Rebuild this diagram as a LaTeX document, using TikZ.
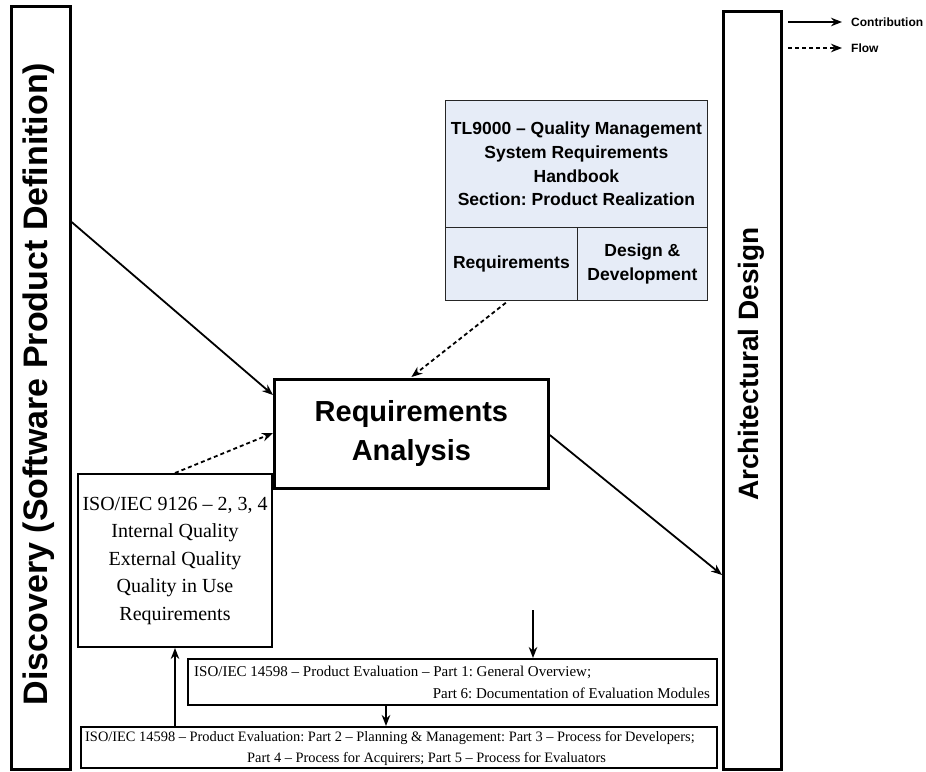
\documentclass[tikz,border=0pt]{standalone}
\usepackage{fontspec}
\setmainfont{Liberation Serif}
\setsansfont{Liberation Sans}
\usetikzlibrary{arrows.meta,calc}

\definecolor{tlfill}{RGB}{230,236,247}

\tikzset{
  phasebar/.style={draw, line width=2.6pt, anchor=north west, inner sep=0pt},
  mainbox/.style={draw, line width=2.8pt, anchor=north west, inner sep=0pt, align=center,
    font=\sffamily\bfseries\fontsize{29}{39}\selectfont},
  stdbox/.style={draw, line width=2pt, anchor=north west, inner sep=0pt, align=center,
    font=\fontsize{20}{27.5}\selectfont},
  evalbox/.style={draw, line width=2.4pt, anchor=north west, inner sep=0pt},
  evaltext/.style={font=\frenchspacing\fontsize{15}{22}\selectfont, inner sep=0pt},
  evaltextb/.style={font=\frenchspacing\fontsize{14.4}{22}\selectfont, inner sep=0pt},
  tlcell/.style={draw=black!85, line width=0.8pt, fill=tlfill, anchor=north west, inner sep=0pt,
    align=center, font=\frenchspacing\sffamily\bfseries\fontsize{17.5}{23.7}\selectfont},
  bartext/.style={rotate=90, inner sep=0pt},
  contrib/.style={line width=1.8pt, -{Stealth[length=11pt,width=8.5pt]}},
  flow/.style={line width=1.8pt, dash pattern=on 4pt off 3pt, -{Stealth[length=11pt,width=8.5pt]}},
  legendtext/.style={font=\sffamily\bfseries\fontsize{12}{14}\selectfont, anchor=west, inner sep=0pt}
}

\begin{document}
\begin{tikzpicture}[x=1pt,y=-1pt]
\useasboundingbox (0,0) rectangle (926,771);

% phase bars
\node[phasebar, minimum width=59pt, minimum height=763pt] (disc) at (10,5) {};
\node[bartext, font=\sffamily\bfseries\fontsize{34}{36}\selectfont] (disctext) at (39,384)
  {Discovery (Software Product Definition)};
\node[phasebar, minimum width=58pt, minimum height=758pt] (arch) at (722,10) {};
\node[bartext, font=\sffamily\bfseries\fontsize{28}{30}\selectfont] (archtext) at (751,364)
  {Architectural Design};

% legend
\coordinate (lg1a) at (788,22);
\coordinate (lg1b) at (842,22);
\coordinate (lg2a) at (788,48);
\coordinate (lg2b) at (842,48);
\draw[contrib] (lg1a) -- (lg1b);
\draw[flow] (lg2a) -- (lg2b);
\node[legendtext] (lgc) at (851,22) {Contribution};
\node[legendtext] (lgf) at (851,48) {Flow};

% TL9000 handbook
\node[tlcell, minimum width=262pt, minimum height=127pt] (tltop) at (445,100)
  {TL9000 -- Quality Management\\System Requirements\\Handbook\\Section: Product Realization};
\node[tlcell, minimum width=132pt, minimum height=73pt] (tlreq) at (445,227) {Requirements};
\node[tlcell, minimum width=130pt, minimum height=73pt] (tldev) at (577,227) {Design \&\\Development};

% central activity
\node[mainbox, minimum width=274pt, minimum height=109pt] (ra) at (273,378)
  {Requirements\\Analysis};

% ISO/IEC 9126
\node[stdbox, minimum width=194pt, minimum height=173pt] (q9126) at (77,473)
  {ISO/IEC 9126 -- 2, 3, 4\\Internal Quality\\External Quality\\Quality in Use\\Requirements};

% ISO/IEC 14598 boxes
\node[evalbox, minimum width=529pt, minimum height=46pt] (ev1) at (187,658) {};
\node[evaltext, anchor=base west] (ev1a) at (194,676)
  {ISO/IEC 14598 -- Product Evaluation -- Part 1: General Overview;};
\node[evaltext, anchor=base east] (ev1b) at (710,698)
  {Part 6: Documentation of Evaluation Modules};

\node[evalbox, minimum width=636pt, minimum height=41pt] (ev2) at (80,726) {};
\node[evaltextb, anchor=base west] (ev2a) at (85,741)
  {ISO/IEC 14598 -- Product Evaluation: Part 2 -- Planning \& Management: Part 3 -- Process for Developers;};
\node[evaltextb, anchor=base west] (ev2b) at (247,762)
  {Part 4 -- Process for Acquirers; Part 5 -- Process for Evaluators};

% connectors
\coordinate (ev1in) at (533,610);
\draw[contrib] (disc.east |- 0,222) -- (ra.west |- 0,395);
\draw[flow] (q9126.north) -- (ra.west |- 0,433);
\draw[flow] ($(tlreq.south east)+(-72,2)$) -- ($(ra.north)+(0,-1)$);
\draw[contrib] (ra.east |- 0,435) -- (arch.west |- 0,575);
\draw[contrib] (ev1in) -- (ev1.north -| ev1in);
\draw[contrib] (ev1.south -| 386,0) -- (ev2.north -| 386,0);
\draw[contrib] (ev2.north -| q9126.south) -- (q9126.south);
\end{tikzpicture}
\end{document}
